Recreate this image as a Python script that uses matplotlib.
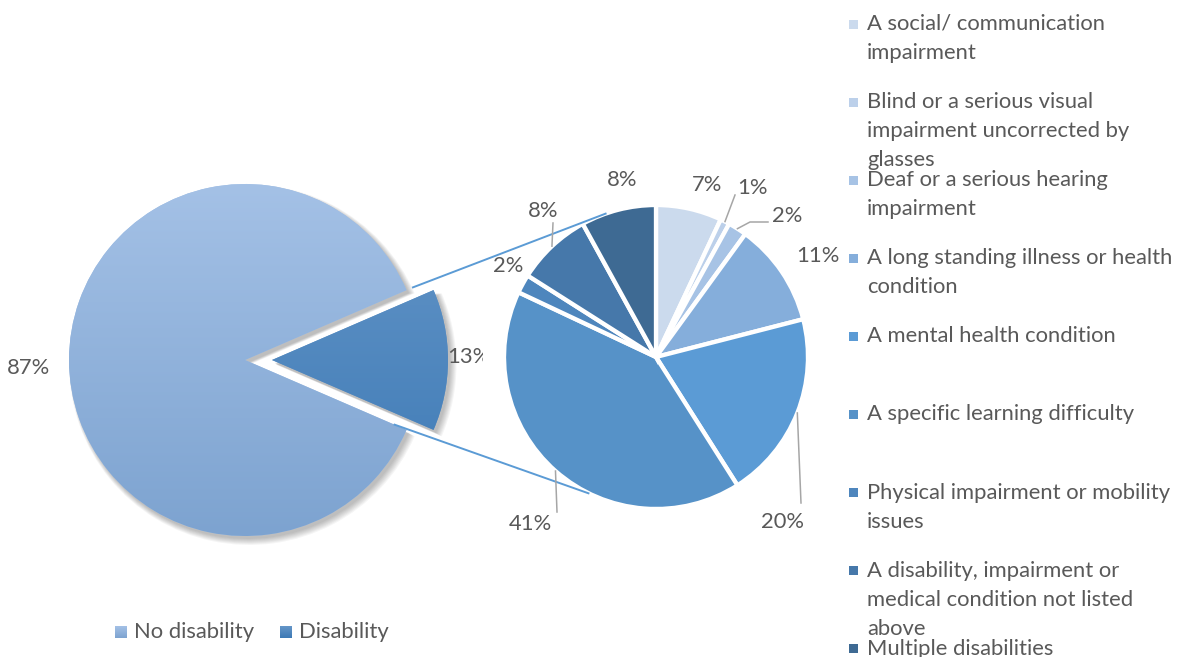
import numpy as np
import matplotlib
matplotlib.use("Agg")
import matplotlib.pyplot as plt
from matplotlib.colors import LinearSegmentedColormap
from matplotlib.patches import Wedge, Rectangle
from matplotlib.transforms import Bbox, TransformedBbox

plt.rcParams['font.family'] = ['Lato', 'DejaVu Sans']

# Overall split
overall_labels = ["No disability", "Disability"]
overall_values = [87, 13]
overall_pct = ["87%", "13%"]

# Breakdown of the disability share
detail_labels = [
    "A social/ communication\nimpairment",
    "Blind or a serious visual\nimpairment uncorrected by\nglasses",
    "Deaf or a serious hearing\nimpairment",
    "A long standing illness or health\ncondition",
    "A mental health condition",
    "A specific learning difficulty",
    "Physical impairment or mobility\nissues",
    "A disability, impairment or\nmedical condition not listed\nabove",
    "Multiple disabilities",
]
detail_values = [7, 1, 2, 11, 20, 41, 2, 8, 8]
detail_pct = ["7%", "1%", "2%", "11%", "20%", "41%", "2%", "8%", "8%"]

W, H = 1184, 657
TEXT = "#595959"
FS = 15.8

detail_colors = ["#cbdaed", "#bcd0ea", "#a7c3e5", "#85aedb", "#5b9bd5",
                 "#5692c8", "#4e86bd", "#4678aa", "#3e6a93"]
# top -> bottom gradient for the two main slices
overall_grad = [("#a4c1e6", "#7da3d0"), ("#6596c8", "#3c79b5")]


def img_y(y):
    # layout measured from the top edge
    return H - y


fig = plt.figure(figsize=(W / 100, H / 100), dpi=100)
ax = fig.add_axes([0, 0, 1, 1])

# ---- left pie ----
c1 = (245, img_y(360))
r1 = 176
start1 = overall_values[1] / 100 * 360 / 2
explode_px = 27

# soft shadow under the left pie
spans = [(start1, start1 + overall_values[0] * 3.6),
         (start1 - overall_values[1] * 3.6, start1)]
for k in range(7):
    for i, (a0, a1) in enumerate(spans):
        cx = c1[0] + (explode_px if i == 1 else 0) + 2.5 + k * 0.3
        cy = c1[1] - 3 - k * 0.3
        ax.add_patch(Wedge((cx, cy), r1 + k * 0.7, a0, a1,
                           facecolor="black", edgecolor="none", alpha=0.04, zorder=1))

wedges1, _ = ax.pie(overall_values, center=c1, radius=r1, startangle=start1,
                    explode=[0, explode_px], colors=[g[0] for g in overall_grad],
                    frame=True, wedgeprops=dict(linewidth=0, zorder=2))
grad = np.linspace(0, 1, 256).reshape(-1, 1)
for w, (ctop, cbot) in zip(wedges1, overall_grad):
    cmap = LinearSegmentedColormap.from_list("g", [ctop, cbot])
    cx, cy = c1
    im = ax.imshow(grad, cmap=cmap, aspect="auto", zorder=3,
                   extent=(cx - r1, cx + r1 + explode_px, cy - r1, cy + r1),
                   origin="upper")
    im.set_clip_path(w)

# ---- right pie ----
c2 = (656, img_y(357))
r2 = 152
wedges2, _ = ax.pie(detail_values, center=c2, radius=r2, startangle=90,
                    counterclock=False, colors=detail_colors, frame=True,
                    wedgeprops=dict(edgecolor="white", linewidth=3.1, zorder=4))

# connector lines between the two pies
a_half = overall_values[1] * 3.6 / 2
for sgn, r_start, end_ang in [(1, 182, 109), (-1, 162, -116)]:
    a = np.radians(sgn * a_half)
    x0 = c1[0] + r_start * np.cos(a)
    y0 = c1[1] + r_start * np.sin(a)
    e = np.radians(end_ang)
    x1 = c2[0] + r2 * np.cos(e)
    y1 = c2[1] + r2 * np.sin(e)
    ax.plot([x0, x1], [y0, y1], color="#5b9bd5", lw=1.4, zorder=5,
            solid_capstyle="butt")

# percentage labels
ax.text(29, img_y(368), overall_pct[0], ha="center", va="center",
        fontsize=FS, color=TEXT)
t13 = ax.text(469, img_y(357), overall_pct[1], ha="center", va="center",
              fontsize=FS, color=TEXT, zorder=6)
t13.set_clip_box(TransformedBbox(Bbox([[0, 0], [483, H]]), ax.transData))
t13.set_clip_on(True)

label_pos = [(707, 185), (752, 188), (787, 216), (818, 256), (782, 522),
             (530, 524), (508, 266), (543, 211), (622, 180)]
for txt, (x, y) in zip(detail_pct, label_pos):
    ax.text(x, img_y(y), txt, ha="center", va="center", fontsize=FS,
            color=TEXT, zorder=6)

# leader lines: (slice index, extra points after the edge point)
leaders = [(1, [(735, 195)]), (2, [(750, 222), (768, 222)]),
           (4, [(801, 503)]), (5, [(557, 512)]), (7, [(553, 223)])]
cum = np.cumsum([0] + detail_values)
for idx, pts in leaders:
    mid = (cum[idx] + cum[idx + 1]) / 2 / sum(detail_values) * 360
    ang = np.radians(90 - mid)
    xs = [c2[0] + r2 * np.cos(ang)] + [p[0] for p in pts]
    ys = [c2[1] + r2 * np.sin(ang)] + [img_y(p[1]) for p in pts]
    ax.plot(xs, ys, color="#a6a6a6", lw=1.1, zorder=6)

# ---- legend for the breakdown ----
lx, ly0, lstep, lline = 853, 24, 78.1, 29
for i, (lab, col) in enumerate(zip(detail_labels, detail_colors)):
    y = ly0 + i * lstep
    ax.add_patch(Rectangle((lx - 4.5, img_y(y) - 4.5), 9, 9, facecolor=col,
                           edgecolor="none", zorder=6))
    for j, line in enumerate(lab.split("\n")):
        ax.text(867, img_y(y + j * lline), line, ha="left", va="center",
                fontsize=FS, color=TEXT, zorder=6)

# ---- legend for the overall split ----
for (x, lab), (ctop, cbot) in zip([(121, overall_labels[0]), (286, overall_labels[1])],
                                  overall_grad):
    cmap = LinearSegmentedColormap.from_list("g", [ctop, cbot])
    ax.imshow(grad, cmap=cmap, aspect="auto", zorder=6, origin="upper",
              extent=(x - 6, x + 6, img_y(638), img_y(626)))
    ax.text(x + 13, img_y(632), lab, ha="left", va="center", fontsize=FS,
            color=TEXT, zorder=6)

ax.set_xlim(0, W)
ax.set_ylim(0, H)
ax.set_aspect("equal")
ax.axis("off")

fig.savefig("out.png", dpi=100)
